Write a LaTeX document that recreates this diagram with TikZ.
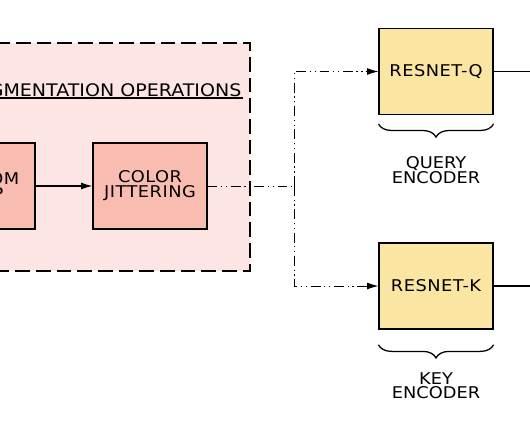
\documentclass[tikz,border=0pt]{standalone}
\usepackage{fontspec}
\setmainfont{DejaVu Sans}[FakeStretch=1.1]
\usetikzlibrary{positioning, arrows.meta, decorations.pathreplacing}
\definecolor{regionpink}{HTML}{FDE5E3}
\definecolor{opsalmon}{HTML}{F9BCB1}
\definecolor{encyellow}{HTML}{FBE5A3}
\tikzset{
  >={Latex[length=2.8mm,width=1.7mm]}, % filled arrow heads
  node distance=0.24cm, % gap between a brace and its caption
  boxfont/.style={font=\fontsize{11.5}{10.8}\selectfont\addfontfeature{LetterSpace=3}},
  region/.style={draw, line width=0.9pt, dash pattern=on 10.5pt off 4.2pt,
    fill=regionpink, minimum width=10cm, minimum height=5.7cm},
  op/.style={draw, line width=0.8pt, fill=opsalmon, minimum width=2.85cm,
    minimum height=2.15cm, align=center, boxfont},
  enc/.style={draw, line width=0.8pt, fill=encyellow, minimum width=2.85cm,
    minimum height=2.15cm, align=center, boxfont},
  flow/.style={line width=0.65pt, dash pattern=on 7pt off 2.6pt on 0.9pt off 2.6pt on 0.9pt off 2.6pt},
  caption/.style={align=center, font=\fontsize{11.5}{10}\selectfont},
  curly/.style={decorate, decoration={brace, mirror, amplitude=0.33cm}, line width=0.9pt},
}

\begin{document}
\begin{tikzpicture}[x=0.025cm, y=-0.025cm]
  \useasboundingbox (0,0) rectangle (530,442);
  \clip (0,0) rectangle (530,442);

  % augmentation block
  \node[region] (augment) at (50,157) {};
  \node[font=\fontsize{12.3}{12}\selectfont,
    anchor=south east, inner xsep=1pt, inner ysep=0.8pt, text depth=0pt]
    (augtitle) at (243,98) {AUGMENTATION OPERATIONS};
  \draw[line width=0.8pt] (augtitle.south west) -- (augtitle.south east);

  \node[op] (crop) at (-22,186) {RANDOM\\CROP};
  \node[op] (jitter) at (150,186) {COLOR\\JITTERING};
  \draw[line width=0.8pt, ->] (crop) -- (jitter);

  % encoders
  \node[enc] (resq) at (436,71.5) {RESNET-Q};
  \node[enc] (resk) at (436,286) {RESNET-K};

  \coordinate (split) at (294,186);
  \draw[flow] (jitter.east) -- (split);
  \draw[flow, ->] (split) |- (resq.west);
  \draw[flow, ->] (split) |- (resk.west);

  \coordinate (qout) at (540,71.5);
  \coordinate (kout) at (540,286);
  \draw[line width=0.8pt] (resq.east) -- (qout);
  \draw[line width=0.8pt] (resk.east) -- (kout);

  % braces and captions
  \draw[curly] ([yshift=-0.22cm]resq.south west) -- ([yshift=-0.22cm]resq.south east)
    coordinate[midway, yshift=-0.33cm] (qtip);
  \node[caption, below=0.36cm of qtip] (qcap) {QUERY\\ENCODER};
  \draw[curly] ([yshift=-0.38cm]resk.south west) -- ([yshift=-0.38cm]resk.south east)
    coordinate[midway, yshift=-0.33cm] (ktip);
  \node[caption, below=of ktip] (kcap) {KEY\\ENCODER};
\end{tikzpicture}
\end{document}
